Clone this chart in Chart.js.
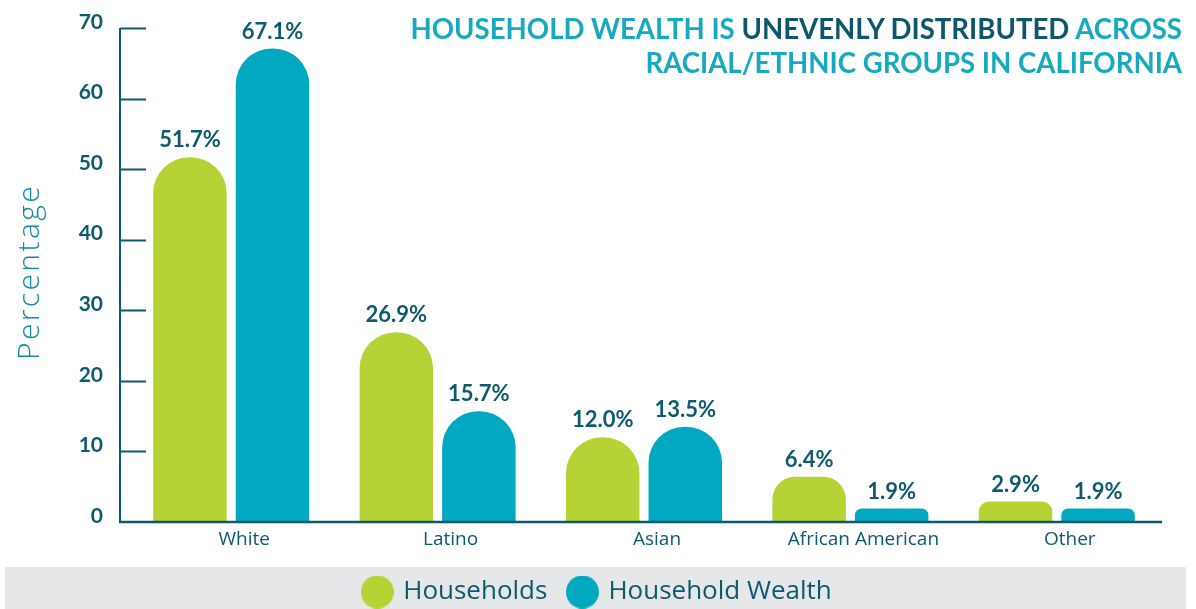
<!DOCTYPE html>
<html>
<head>
<meta charset="utf-8">
<script src="https://cdn.jsdelivr.net/npm/chart.js@4.4.1/dist/chart.umd.min.js"></script>
<style>
  body { margin: 0; background: #fff; }
  #wrap { position: relative; width: 1196px; height: 609px; }
  #title {
    position: absolute; right: 14px; top: 12px;
    font-family: Lato, sans-serif; font-weight: 700; font-size: 27.6px;
    line-height: 34px; text-align: right; color: #17aabf;
  }
  #title .dark { color: #0d566b; }
</style>
</head>
<body>
<div id="wrap">
  <canvas id="wealthChart"></canvas>
  <div id="title">HOUSEHOLD WEALTH IS <span class="dark">UNEVENLY DISTRIBUTED</span> ACROSS<br>RACIAL/ETHNIC GROUPS IN CALIFORNIA</div>
</div>
<script>
var categories = ['White', 'Latino', 'Asian', 'African American', 'Other'];
var households = [51.7, 26.9, 12.0, 6.4, 2.9];
var householdWealth = [67.1, 15.7, 13.5, 1.9, 1.9];
var yTicks = [0, 10, 20, 30, 40, 50, 60, 70];
var yTitle = 'Percentage';

var darkTeal = '#0d5a6e';
var green = '#b5d334';
var teal = '#00a9bf';

// round legend markers
function dot(color) {
  var c = document.createElement('canvas');
  c.width = 33; c.height = 33;
  var x = c.getContext('2d');
  x.fillStyle = color;
  x.beginPath();
  x.arc(16.5, 16.5, 16.5, 0, Math.PI * 2);
  x.fill();
  return c;
}

// gray band behind legend, axis lines with inner ticks, y title, value labels
var extras = {
  id: 'extras',
  beforeDraw(chart) {
    var ctx = chart.ctx, lg = chart.legend;
    ctx.save();
    ctx.fillStyle = '#e6e7e8';
    ctx.fillRect(5, lg.top + 10, chart.width - 15, chart.height - lg.top - 10);
    ctx.restore();
  },
  afterDatasetsDraw(chart) {
    var ctx = chart.ctx, area = chart.chartArea, y = chart.scales.y;
    var axX = area.left - 8;
    var y0 = y.getPixelForValue(0);
    ctx.save();
    ctx.strokeStyle = darkTeal;
    ctx.lineWidth = 2;
    ctx.beginPath();
    ctx.moveTo(axX, y.getPixelForValue(yTicks[yTicks.length - 1]));
    ctx.lineTo(axX, y0 + 1);
    yTicks.forEach(function (v) {
      if (v === 0) return;
      var py = Math.round(y.getPixelForValue(v)) + 0.5;
      ctx.moveTo(axX, py);
      ctx.lineTo(axX + 26, py);
    });
    ctx.stroke();
    ctx.lineWidth = 2.5;
    ctx.beginPath();
    ctx.moveTo(axX - 1, y0);
    ctx.lineTo(area.right + 2, y0);
    ctx.stroke();

    // y axis title
    ctx.fillStyle = '#138aa1';
    ctx.font = '300 30px "Open Sans"';
    ctx.letterSpacing = '2.4px';
    ctx.textAlign = 'center';
    ctx.textBaseline = 'middle';
    ctx.translate(30, (area.top + area.bottom) / 2 - 3);
    ctx.rotate(-Math.PI / 2);
    ctx.fillText(yTitle, 0, 0);
    ctx.restore();

    // value labels
    ctx.save();
    ctx.fillStyle = darkTeal;
    ctx.font = 'bold 22px Lato';
    ctx.textAlign = 'center';
    ctx.textBaseline = 'bottom';
    chart.data.datasets.forEach(function (ds, i) {
      chart.getDatasetMeta(i).data.forEach(function (bar, j) {
        ctx.fillText(ds.data[j].toFixed(1) + '%', bar.x, bar.y - 6);
      });
    });
    ctx.restore();
  }
};

new Chart(document.getElementById('wealthChart'), {
  type: 'bar',
  data: {
    labels: categories,
    datasets: [{
      label: 'Households',
      data: households,
      backgroundColor: green,
      pointStyle: dot(green),
      borderRadius: { topLeft: 36, topRight: 36 },
      borderSkipped: 'start',
      yAxisID: 'y'
    }, {
      label: 'Household Wealth',
      data: householdWealth,
      backgroundColor: teal,
      pointStyle: dot(teal),
      borderRadius: { topLeft: 36, topRight: 36 },
      borderSkipped: 'start',
      yAxisID: 'y'
    }]
  },
  options: {
    responsive: true,
    maintainAspectRatio: false,
    animation: false,
    categoryPercentage: 0.8,
    barPercentage: 0.89,
    layout: { padding: { top: 28, left: 0, right: 0, bottom: 0 } },
    plugins: {
      tooltip: { enabled: false },
      legend: {
        position: 'bottom',
        maxHeight: 52,
        labels: {
          usePointStyle: true,
          pointStyleWidth: 26,
          padding: 22,
          color: darkTeal,
          font: { family: 'Open Sans', size: 26 }
        }
      }
    },
    scales: {
      x: {
        grid: { display: false, drawTicks: false },
        border: { display: false },
        ticks: {
          color: darkTeal,
          font: { family: 'Open Sans', size: 19 },
          padding: 6,
          labelOffset: 13,
          maxRotation: 0
        },
        afterFit(s) { s.height = 35; }
      },
      y: {
        min: 0,
        max: 70,
        grid: { display: false, drawTicks: false },
        border: { display: false },
        ticks: {
          stepSize: 10,
          color: darkTeal,
          font: { family: 'Lato', size: 21, weight: 'bold' },
          padding: 25,
          labelOffset: -6
        },
        afterFit(s) { s.width = 128; s.paddingTop = 0; s.paddingBottom = 0; }
      },
      y2: {
        position: 'right',
        grid: { display: false, drawTicks: false },
        border: { display: false },
        ticks: { display: false },
        afterFit(s) { s.width = 36; s.paddingTop = 0; s.paddingBottom = 0; }
      }
    }
  },
  plugins: [extras]
});
</script>
</body>
</html>
